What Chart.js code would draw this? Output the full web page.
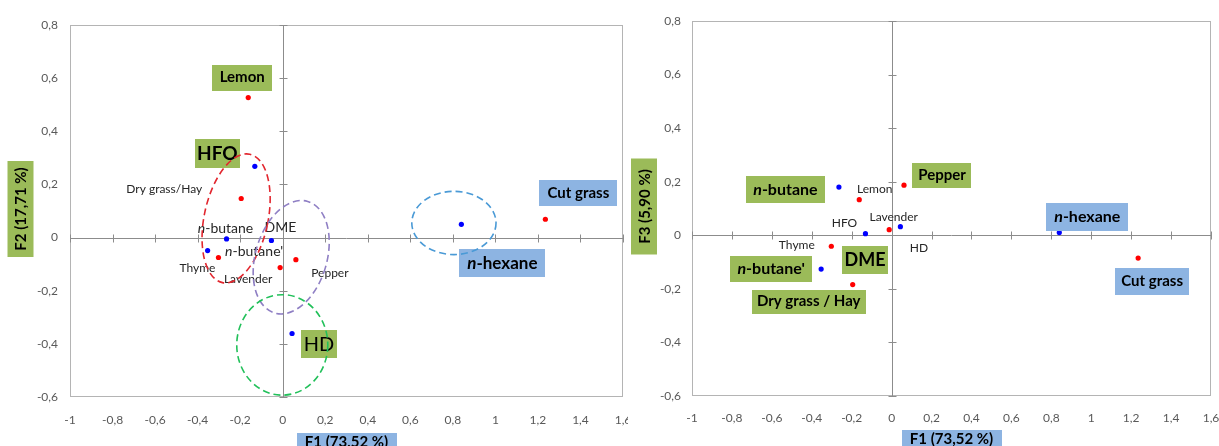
<!DOCTYPE html>
<html>
<head>
<meta charset="utf-8">
<script src="https://cdn.jsdelivr.net/npm/chart.js@4"></script>
<style>
html,body{margin:0;padding:0;background:#fff;}
#wrap{position:relative;width:1219px;height:446px;overflow:hidden;}
canvas{position:absolute;top:0;}
#c1{left:0;}
#c2{left:628px;}
</style>
</head>
<body>
<div id="wrap">
<canvas id="c1" width="628" height="446"></canvas>
<canvas id="c2" width="591" height="446"></canvas>
</div>
<script>
// samples (red) and reference substances (blue), PCA scores
const sampleNames = ["Lemon", "Dry grass/Hay", "Thyme", "Lavender", "Pepper", "Cut grass"];
const sampleF1 = [-0.162, -0.195, -0.302, -0.012, 0.062, 1.235];
const sampleF2 = [0.527, 0.147, -0.075, -0.113, -0.083, 0.069];
const sampleF3 = [0.133, -0.184, -0.041, 0.021, 0.187, -0.085];

const substanceNames = ["HFO", "n-butane", "DME", "n-butane'", "HD", "n-hexane"];
const substanceF1 = [-0.131, -0.264, -0.053, -0.353, 0.044, 0.84];
const substanceF2 = [0.268, -0.005, -0.011, -0.049, -0.361, 0.05];
const substanceF3 = [0.006, 0.18, -0.09, -0.126, 0.032, 0.01];

const xTickMin = -1, xTickMax = 1.6;
const yTickMin = -0.6, yTickMax = 0.8;
const tickStep = 0.2;

const titleF1 = "F1 (73,52 %)";
const titleF2 = "F2 (17,71 %)";
const titleF3 = "F3 (5,90 %)";

// group ellipses on the F1/F2 map (centre and half axes in score units)
const groupEllipses = [
  {cx: -0.219, cy: 0.072, rx: 0.150, ry: 0.247, rot: 12, color: "#e2262e"},
  {cx: 0.040, cy: -0.074, rx: 0.168, ry: 0.219, rot: 16.5, color: "#8f7fc4"},
  {cx: -0.002, cy: -0.404, rx: 0.214, ry: 0.189, rot: 0, color: "#22c05a"},
  {cx: 0.805, cy: 0.055, rx: 0.198, ry: 0.119, rot: 0, color: "#4a9ad6"}
];

const GREEN = "#9bbb59";
const BLUE = "#8db4e2";
const FONT = "Lato, 'Open Sans', sans-serif";

const leftLabels = [
  {p: "Lemon", dx: -6, dy: -20, bg: GREEN, w: 60, h: 26, size: 15, bold: true},
  {p: "HFO", dx: -37.5, dy: -12.5, bg: GREEN, w: 45, h: 29, size: 19, bold: true},
  {p: "HD", dx: 27, dy: 11, bg: GREEN, w: 36, h: 28, size: 20, bold: false},
  {p: "Cut grass", dx: 33, dy: -26, bg: BLUE, w: 78, h: 26, size: 15, bold: true},
  {p: "n-hexane", dx: 41, dy: 39, bg: BLUE, w: 86, h: 28, size: 17, bold: true},
  {p: "Dry grass/Hay", dx: -77, dy: -9, size: 12},
  {p: "Thyme", dx: -21, dy: 11, size: 12},
  {p: "Lavender", dx: -32, dy: 12, size: 12},
  {p: "Pepper", dx: 34, dy: 13, size: 12},
  {p: "n-butane", dx: -1, dy: -10, size: 14},
  {p: "DME", dx: 9, dy: -13, size: 14},
  {p: "n-butane'", dx: 46.5, dy: 1, size: 14}
];

const rightLabels = [
  {p: "n-butane", dx: -53.5, dy: 2.5, bg: GREEN, w: 79, h: 27, size: 16, bold: true},
  {p: "Pepper", dx: 38, dy: -10, bg: GREEN, w: 59, h: 25, size: 15, bold: true},
  {p: "n-butane'", dx: -50, dy: 0, bg: GREEN, w: 82, h: 26, size: 16, bold: true},
  {p: "DME", dx: -16, dy: 1, bg: GREEN, w: 46, h: 28, size: 18, bold: true},
  {p: "Dry grass/Hay", t: "Dry grass / Hay", dx: -44, dy: 17, bg: GREEN, w: 114, h: 24, size: 15, bold: true},
  {p: "n-hexane", dx: 28, dy: -16, bg: BLUE, w: 82, h: 28, size: 16, bold: true},
  {p: "Cut grass", dx: 14, dy: 23, bg: BLUE, w: 74, h: 27, size: 15, bold: true},
  {p: "Lemon", dx: 15.5, dy: -11, size: 12},
  {p: "HFO", dx: -21, dy: -11, size: 12},
  {p: "Lavender", dx: 4.5, dy: -13, size: 12},
  {p: "HD", dx: 18.5, dy: 21, size: 12},
  {p: "Thyme", dx: -34.5, dy: -1, size: 12}
];

function fmt(v) {
  return String(Math.round(v * 10) / 10).replace(".", ",");
}

// text with an italic leading "n" (n-butane, n-hexane)
function drawLabelText(ctx, text, cx, cy, size, bold) {
  const w = bold ? "bold " : "";
  let parts = [[text, w + size + "px " + FONT]];
  if (text.startsWith("n-")) {
    parts = [["n", "italic " + w + size + "px " + FONT], [text.slice(1), w + size + "px " + FONT]];
  }
  let total = 0;
  parts.forEach(p => { ctx.font = p[1]; total += ctx.measureText(p[0]).width; });
  let x = cx - total / 2;
  ctx.textAlign = "left";
  ctx.textBaseline = "middle";
  parts.forEach(p => { ctx.font = p[1]; ctx.fillText(p[0], x, cy); x += ctx.measureText(p[0]).width; });
}

function pointPos(chart, name) {
  let i = sampleNames.indexOf(name);
  if (i >= 0) return chart.getDatasetMeta(0).data[i];
  i = substanceNames.indexOf(name);
  return chart.getDatasetMeta(1).data[i];
}

const mapPlugin = {
  id: "pcaMap",
  beforeDatasetsDraw(chart) {
    const {ctx, chartArea: a, scales: {x, y}} = chart;
    ctx.save();
    ctx.strokeStyle = "#b4b4b4";
    ctx.lineWidth = 1;
    ctx.strokeRect(Math.round(a.left) + 0.5, Math.round(a.top) + 0.5, Math.round(a.right - a.left) - 1, Math.round(a.bottom - a.top) - 1);
    const x0 = Math.round(x.getPixelForValue(0)) + 0.5;
    const y0 = Math.round(y.getPixelForValue(0)) + 0.5;
    ctx.strokeStyle = "#8c8c8c";
    ctx.beginPath();
    ctx.moveTo(x0, a.top); ctx.lineTo(x0, a.bottom);
    ctx.moveTo(a.left, y0); ctx.lineTo(a.right, y0);
    x.ticks.forEach(t => {
      const px = Math.round(x.getPixelForValue(t.value)) + 0.5;
      ctx.moveTo(px, y0 - 4); ctx.lineTo(px, y0 + 4);
    });
    y.ticks.forEach(t => {
      const py = Math.round(y.getPixelForValue(t.value)) + 0.5;
      ctx.moveTo(x0 - 4, py); ctx.lineTo(x0 + 4, py);
    });
    ctx.stroke();
    ctx.restore();
  },
  afterDatasetsDraw(chart, args, opts) {
    const {ctx, chartArea: a, scales: {x, y}} = chart;
    ctx.save();
    // point labels
    opts.labels.forEach(l => {
      const pt = pointPos(chart, l.p);
      const cx = pt.x + l.dx, cy = pt.y + l.dy;
      if (l.bg) {
        ctx.fillStyle = l.bg;
        ctx.fillRect(Math.round(cx - l.w / 2), Math.round(cy - l.h / 2), l.w, l.h);
        ctx.fillStyle = "#000";
      } else {
        ctx.fillStyle = "#262626";
      }
      drawLabelText(ctx, l.t || l.p, cx, cy, l.size, !!l.bold);
    });
    // group ellipses
    const ux = Math.abs(x.getPixelForValue(1) - x.getPixelForValue(0));
    const uy = Math.abs(y.getPixelForValue(1) - y.getPixelForValue(0));
    ctx.lineWidth = 1.6;
    ctx.setLineDash([7, 4]);
    (opts.ellipses || []).forEach(e => {
      ctx.strokeStyle = e.color;
      ctx.beginPath();
      ctx.ellipse(x.getPixelForValue(e.cx), y.getPixelForValue(e.cy), e.rx * ux, e.ry * uy, e.rot * Math.PI / 180, 0, Math.PI * 2);
      ctx.stroke();
    });
    ctx.setLineDash([]);
    // axis titles in coloured boxes
    const mx = (a.left + a.right) / 2;
    ctx.fillStyle = BLUE;
    ctx.fillRect(Math.round(mx - 50), opts.xTitleTop, 100, 24);
    ctx.fillStyle = "#000";
    drawLabelText(ctx, titleF1, mx, opts.xTitleTop + 9, 15, true);
    const my = (a.top + a.bottom) / 2 - 2;
    ctx.translate(opts.yTitleX, my);
    ctx.rotate(-Math.PI / 2);
    ctx.fillStyle = GREEN;
    ctx.fillRect(-48, -13, 96, 26);
    ctx.fillStyle = "#000";
    drawLabelText(ctx, opts.yTitle, 0, 1, 15, true);
    ctx.restore();
  }
};

function makeChart(id, ys2, ys1, opts) {
  return new Chart(document.getElementById(id), {
    type: "scatter",
    data: {
      datasets: [
        {label: "samples", data: sampleF1.map((v, i) => ({x: v, y: ys1[i]})), backgroundColor: "#ff0000"},
        {label: "substances", data: substanceF1.map((v, i) => ({x: v, y: ys2[i]})), backgroundColor: "#0000ff"}
      ]
    },
    options: {
      responsive: false,
      animation: false,
      devicePixelRatio: 1,
      layout: {padding: {left: 0, top: opts.top, right: opts.right, bottom: 0}},
      elements: {point: {radius: 2.6, borderWidth: 0, hoverRadius: 2.6}},
      plugins: {
        legend: {display: false},
        tooltip: {enabled: false},
        pcaMap: opts
      },
      scales: {
        x: {
          type: "linear", min: xTickMin, max: xTickMax,
          ticks: {stepSize: tickStep, callback: fmt, padding: opts.xPad, color: "#595959", font: {family: FONT, size: 12}, maxRotation: 0, autoSkip: false},
          grid: {display: false, drawTicks: false},
          border: {display: false},
          afterFit(s) { s.height = opts.xHeight; s.paddingLeft = 0; s.paddingRight = 0; }
        },
        y: {
          type: "linear", min: yTickMin, max: yTickMax,
          ticks: {stepSize: tickStep, callback: fmt, padding: opts.yPad, color: "#595959", font: {family: FONT, size: 12}},
          grid: {display: false, drawTicks: false},
          border: {display: false},
          afterFit(s) { s.width = opts.yWidth; s.paddingTop = 0; s.paddingBottom = 0; }
        }
      }
    },
    plugins: [mapPlugin]
  });
}

makeChart("c1", substanceF2, sampleF2, {
  labels: leftLabels, ellipses: groupEllipses, yTitle: titleF2,
  top: 25, right: 5, xHeight: 49, yWidth: 70, xPad: 16, yPad: 12,
  xTitleTop: 433, yTitleX: 20.5
});

makeChart("c2", substanceF3, sampleF3, {
  labels: rightLabels, ellipses: [], yTitle: titleF3,
  top: 21, right: 8, xHeight: 50, yWidth: 64, xPad: 15, yPad: 11,
  xTitleTop: 430, yTitleX: 16
});
</script>
</body>
</html>
